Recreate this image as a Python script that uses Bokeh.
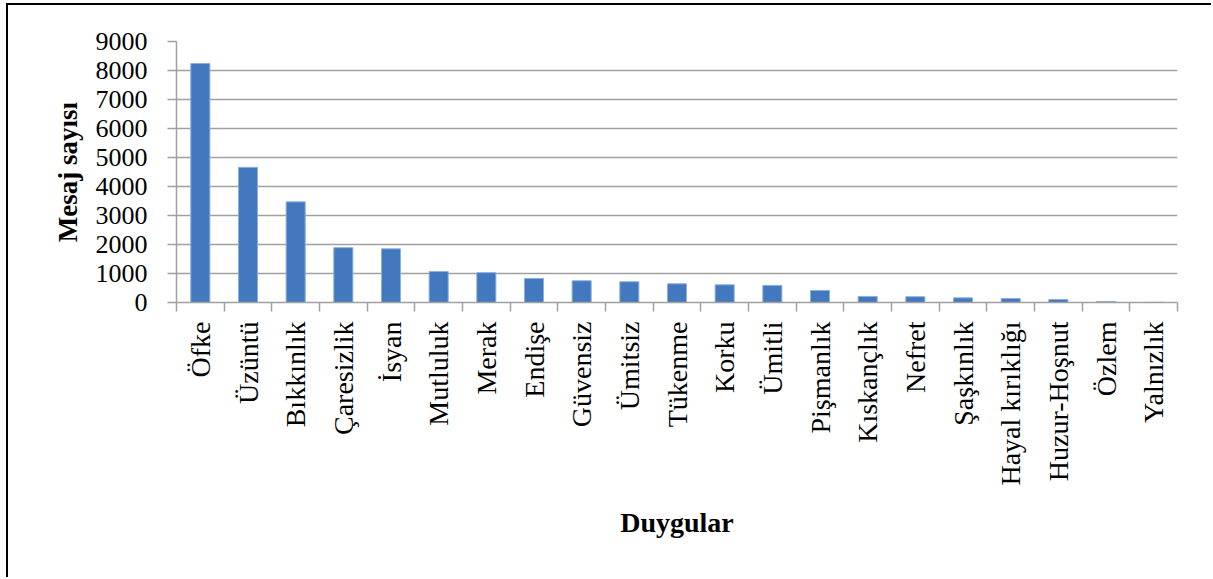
import math
from bokeh.plotting import figure
from bokeh.models import FixedTicker, Range1d, ColumnDataSource
from bokeh.embed import file_html
from bokeh.resources import INLINE

categories = ["Öfke", "Üzüntü", "Bıkkınlık", "Çaresizlik", "İsyan", "Mutluluk", "Merak",
              "Endişe", "Güvensiz", "Ümitsiz", "Tükenme", "Korku", "Ümitli", "Pişmanlık",
              "Kıskançlık", "Nefret", "Şaşkınlık", "Hayal kırıklığı", "Huzur-Hoşnut",
              "Özlem", "Yalnızlık"]
values = [8240, 4660, 3470, 1890, 1850, 1070, 1030, 830, 750, 715, 645, 610, 590, 415,
          210, 200, 160, 140, 105, 35, 5]
y_ticks = [0, 1000, 2000, 3000, 4000, 5000, 6000, 7000, 8000, 9000]

FONT = "Liberation Serif"
n = len(categories)
centers = [i + 0.5 for i in range(n)]
bounds = list(range(n + 1))

src = ColumnDataSource(dict(x=centers, top=values))

p = figure(width=1205, height=574, output_backend="svg", toolbar_location=None,
           x_range=Range1d(0, n), y_range=Range1d(0, 9000),
           min_border_left=168, min_border_right=36, min_border_top=36, min_border_bottom=277,
           styles={"border-left": "2px solid black", "border-top": "2px solid black",
                   "margin-left": "6px", "margin-top": "3px"})
p.outline_line_color = None
p.background_fill_color = "white"
p.border_fill_color = "white"

p.vbar(x="x", top="top", width=0.4, bottom=0, source=src,
       fill_color="#4278bd", line_color="#8db0dc", line_width=1)

# y axis
p.yaxis.ticker = FixedTicker(ticks=y_ticks)
p.yaxis.axis_line_color = "#a0a0a0"
p.yaxis.axis_line_width = 1.5
p.yaxis.major_tick_line_color = "#a0a0a0"
p.yaxis.major_tick_line_width = 1.5
p.yaxis.major_tick_out = 9
p.yaxis.major_tick_in = 0
p.yaxis.minor_tick_line_color = None
p.yaxis.major_label_text_font = FONT
p.yaxis.major_label_text_font_size = "26px"
p.yaxis.major_label_text_color = "black"
p.yaxis.major_label_standoff = 20
p.yaxis.axis_label = "Mesaj sayısı"
p.yaxis.axis_label_text_font = FONT
p.yaxis.axis_label_text_font_style = "bold"
p.yaxis.axis_label_text_font_size = "27px"
p.yaxis.axis_label_text_color = "black"
p.yaxis.axis_label_standoff = 10

# x axis
p.xaxis.ticker = FixedTicker(ticks=centers, minor_ticks=bounds)
p.xaxis.major_label_overrides = {c: lab for c, lab in zip(centers, categories)}
p.xaxis.major_label_orientation = math.pi / 2
p.xaxis.major_tick_line_color = None
p.xaxis.major_tick_out = 0
p.xaxis.major_tick_in = 0
p.xaxis.minor_tick_line_color = "#a0a0a0"
p.xaxis.minor_tick_line_width = 1.5
p.xaxis.minor_tick_out = 9
p.xaxis.minor_tick_in = 0
p.xaxis.axis_line_color = "#a0a0a0"
p.xaxis.axis_line_width = 1.5
p.xaxis.major_label_text_font = FONT
p.xaxis.major_label_text_font_size = "28px"
p.xaxis.major_label_text_color = "black"
p.xaxis.major_label_standoff = 10
p.xaxis.axis_label = "Duygular"
p.xaxis.axis_label_text_font = FONT
p.xaxis.axis_label_text_font_style = "bold"
p.xaxis.axis_label_text_font_size = "28px"
p.xaxis.axis_label_text_color = "black"
p.xaxis.axis_label_standoff = 18

p.xgrid.grid_line_color = None
p.ygrid.ticker = FixedTicker(ticks=y_ticks)
p.ygrid.grid_line_color = "#a0a0a0"
p.ygrid.grid_line_width = 1.5

open("out.html", "w").write(file_html(p, INLINE))
